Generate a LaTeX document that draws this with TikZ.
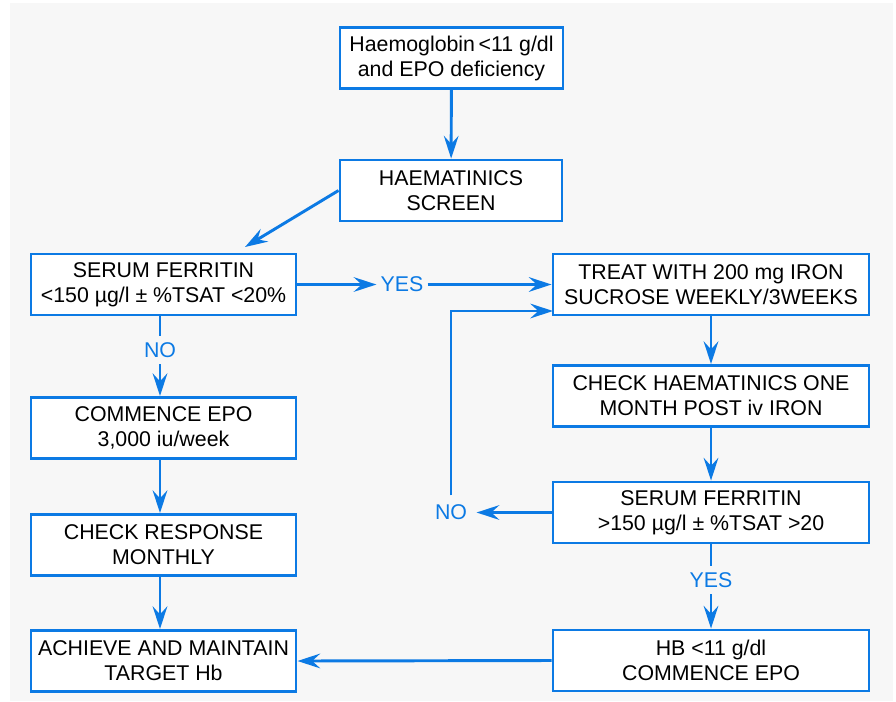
\documentclass[tikz,border=0pt]{standalone}
\usepackage{fontspec}
\setmainfont{Liberation Sans}
\usetikzlibrary{arrows.meta}
\definecolor{flowblue}{RGB}{12,122,228}
\definecolor{paper}{RGB}{247,247,247}
\tikzset{
  stepbox/.style={draw=flowblue,line width=2.2pt,fill=white,align=center,inner sep=2pt,minimum height=45.75pt},
  link/.style={flowblue,line width=2.2pt},
  arr/.style={link,-{Stealth[length=17pt,width=11pt,inset=6pt]}},
  answer/.style={text=flowblue,inner sep=5pt}
}
\begin{document}
\begin{tikzpicture}[x=0.75pt,y=-0.75pt,font=\fontsize{16}{18.75}\selectfont]
    \useasboundingbox (0,0) rectangle (896,701);
    \fill[paper] (10,3) rectangle (893,701);
    \node[stepbox,minimum width=167.25pt] (hb) at (451.5,58) {Haemoglobin\,<11 g/dl\\and EPO deficiency};
    \node[stepbox,minimum width=166.5pt] (screen) at (451,190.5) {HAEMATINICS\\SCREEN};
    \node[stepbox,minimum width=198.75pt] (ferL) at (163.5,284.5) {SERUM FERRITIN\\<150 µg/l ± \%TSAT <20\%};
    \node[stepbox,minimum width=198.75pt] (epo) at (163.5,428) {COMMENCE EPO\\3,000 iu/week};
    \node[stepbox,minimum width=198.75pt] (resp) at (163.5,545) {CHECK RESPONSE\\MONTHLY};
    \node[stepbox,minimum width=198.75pt] (target) at (163.5,661) {ACHIEVE AND MAINTAIN\\TARGET Hb};
    \node[stepbox,minimum width=237pt] (iron) at (711,284.5) {TREAT WITH 200 mg IRON\\SUCROSE WEEKLY/3WEEKS};
    \node[stepbox,minimum width=237pt] (check) at (711,396) {CHECK HAEMATINICS ONE\\MONTH POST iv IRON};
    \node[stepbox,minimum width=237pt] (ferR) at (711,512.5) {SERUM FERRITIN\\>150 µg/l ± \%TSAT >20};
    \node[stepbox,minimum width=237pt] (hbepo) at (711,660.5) {HB <11 g/dl\\COMMENCE EPO};
    \node[answer,inner sep=3pt] (yes1) at (402,284.5) {YES};
    \node[answer] (no1) at (160,350) {NO};
    \node[answer,inner sep=7pt] (no2) at (451,512.5) {NO};
    \node[answer] (yes2) at (711,580) {YES};
    \coordinate (ferTip) at (245,247);
    \coordinate (ironIn) at (553,311);
    \draw[arr] (hb) -- (screen);
    \draw[arr] (screen.west) -- (ferTip);
    \draw[arr] (ferL.east) -- (yes1.west);
    \draw[arr] (yes1.east) -- (iron.west);
    \draw[link] (ferL.south -| no1) -- (no1.north);
    \draw[arr] (no1.south) -- (epo.north -| no1);
    \draw[arr] (epo.south -| no1) -- (resp.north -| no1);
    \draw[arr] (resp.south -| no1) -- (target.north -| no1);
    \draw[arr] (hbepo.west) -- (target.east);
    \draw[arr] (iron) -- (check);
    \draw[arr] (check) -- (ferR);
    \draw[link] (ferR.south) -- (yes2.north);
    \draw[arr] (yes2.south) -- (hbepo.north);
    \draw[arr] (ferR.west) -- (no2.east);
    \draw[arr] (no2.north) |- (ironIn);
\end{tikzpicture}
\end{document}
